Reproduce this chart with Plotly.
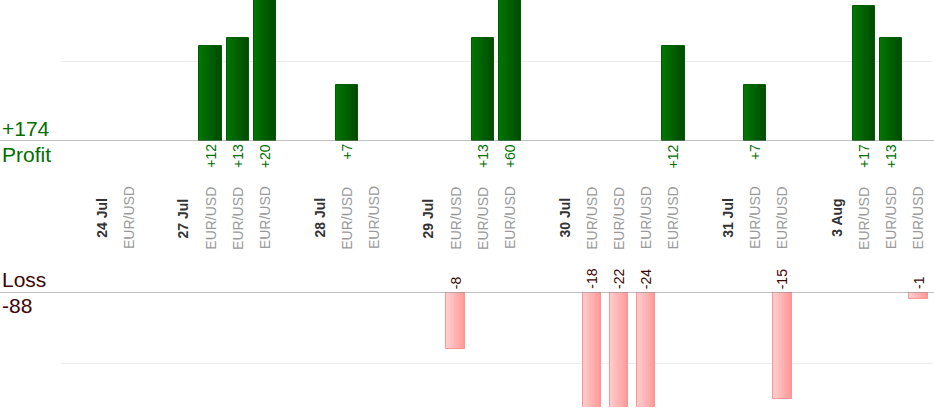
import plotly.graph_objects as go

# one slot per column, empty strings are spacer columns
labels = ["", "24 Jul", "EUR/USD",
          "", "27 Jul", "EUR/USD", "EUR/USD", "EUR/USD",
          "", "28 Jul", "EUR/USD", "EUR/USD",
          "", "29 Jul", "EUR/USD", "EUR/USD", "EUR/USD",
          "", "30 Jul", "EUR/USD", "EUR/USD", "EUR/USD", "EUR/USD",
          "", "31 Jul", "EUR/USD", "EUR/USD",
          "", "3 Aug", "EUR/USD", "EUR/USD", "EUR/USD"]
results = [None, None, None,
           None, None, 12, 13, 20,
           None, None, 7, None,
           None, None, -8, 13, 60,
           None, None, -18, -22, -24, 12,
           None, None, 7, -15,
           None, None, 17, 13, -1]

slots = list(range(len(labels)))
profit = [r if r is not None and r > 0 else None for r in results]
loss = [r if r is not None and r < 0 else None for r in results]
total_profit = sum(p for p in profit if p is not None)
total_loss = sum(l for l in loss if l is not None)

FONT = "Liberation Sans, Arial, sans-serif"
GREEN_TXT = "#006e00"
LOSS_TXT = "#3d0505"


def mix(c0, c1, t):
    a = [int(c0[i:i + 2], 16) for i in (1, 3, 5)]
    b = [int(c1[i:i + 2], 16) for i in (1, 3, 5)]
    return "rgb(%d,%d,%d)" % tuple(round(a[k] + (b[k] - a[k]) * t) for k in range(3))


def gradient_bars(fig, xs, ys, width, c0, c1, border, xaxis, yaxis, n=12):
    # vertical strips to fake the left-to-right gradient
    for i in range(n):
        off = -width / 2 + i * width / n
        w = min(width / n * 1.5, width / 2 - off)
        fig.add_trace(go.Bar(x=xs, y=ys, width=w, offset=off,
                             marker=dict(color=mix(c0, c1, i / (n - 1)), line=dict(width=0)),
                             xaxis=xaxis, yaxis=yaxis, hoverinfo="skip", showlegend=False))
    fig.add_trace(go.Bar(x=xs, y=ys, width=width, offset=-width / 2,
                         marker=dict(color="rgba(0,0,0,0)", line=dict(color=border, width=1)),
                         xaxis=xaxis, yaxis=yaxis, showlegend=False))


fig = go.Figure()
gradient_bars(fig, slots, profit, 0.83, "#007500", "#004a00", "#005c00", "x", "y")
gradient_bars(fig, slots, loss, 0.68, "#ffcccc", "#ff9999", "#ff9494", "x2", "y2")

annotations = []
# value labels
for s, p in zip(slots, profit):
    if p is not None:
        annotations.append(dict(x=s, y=0, xref="x", yref="y", text="+%d" % p, textangle=-90,
                                xanchor="center", yanchor="top", yshift=-1, showarrow=False,
                                font=dict(family=FONT, size=14, color=GREEN_TXT)))
for s, l in zip(slots, loss):
    if l is not None:
        annotations.append(dict(x=s, y=0, xref="x2", yref="y2", text="%d" % l, textangle=-90,
                                xanchor="center", yanchor="bottom", yshift=1, showarrow=False,
                                font=dict(family=FONT, size=14, color=LOSS_TXT)))
# category labels
for s, lab in zip(slots, labels):
    if not lab:
        continue
    if lab == "EUR/USD":
        txt, col = lab, "#9a9a9a"
    else:
        txt, col = "<b>%s</b>" % lab, "#333333"
    annotations.append(dict(x=s, y=1 - 218 / 420, xref="x", yref="paper", text=txt, textangle=-90,
                            xanchor="center", yanchor="middle", showarrow=False,
                            font=dict(family=FONT, size=14, color=col)))
# totals
annotations += [
    dict(x=0, y=0, xref="paper", yref="y", text="+%d" % total_profit, xanchor="left", yanchor="bottom",
         yshift=-1, showarrow=False, font=dict(family=FONT, size=21, color=GREEN_TXT)),
    dict(x=0, y=0, xref="paper", yref="y", text="Profit", xanchor="left", yanchor="top",
         showarrow=False, font=dict(family=FONT, size=21, color=GREEN_TXT)),
    dict(x=0, y=0, xref="paper", yref="y2", text="Loss", xanchor="left", yanchor="bottom",
         yshift=-1, showarrow=False, font=dict(family=FONT, size=21, color=LOSS_TXT)),
    dict(x=0, y=0, xref="paper", yref="y2", text="%d" % total_loss, xanchor="left", yanchor="top",
         showarrow=False, font=dict(family=FONT, size=21, color=LOSS_TXT)),
]

baselines = [dict(type="line", xref="paper", x0=0, x1=1, yref=ax, y0=0, y1=0,
                  line=dict(color="#858585", width=1.2)) for ax in ("y", "y2")]

xdom = [61 / 934, 932 / 934]
xr = [-0.5, len(labels) - 0.5]
fig.update_layout(
    width=934, height=420,
    margin=dict(l=0, r=0, t=0, b=0),
    paper_bgcolor="white", plot_bgcolor="white",
    barmode="overlay", bargap=0,
    font=dict(family=FONT),
    xaxis=dict(domain=xdom, range=xr, anchor="y", visible=False, fixedrange=True),
    xaxis2=dict(domain=xdom, range=xr, anchor="y2", visible=False, matches="x"),
    yaxis=dict(domain=[1 - 141 / 420, 1], range=[0, 17.78], dtick=10, showgrid=True,
               gridcolor="#ececec", gridwidth=1, zeroline=False, showticklabels=False, ticks=""),
    yaxis2=dict(domain=[1 - 407 / 420, 1 - 292 / 420], range=[-16.15, 0], dtick=10, showgrid=True,
                gridcolor="#ececec", gridwidth=1, zeroline=False, showticklabels=False, ticks=""),
    annotations=annotations,
    shapes=baselines,
    showlegend=False,
)

# drop the browser's default 8px body margin so the figure sits at the page corner
fig.write_html("out.html", config={"displayModeBar": False},
               post_script="document.body.style.margin='0';")
